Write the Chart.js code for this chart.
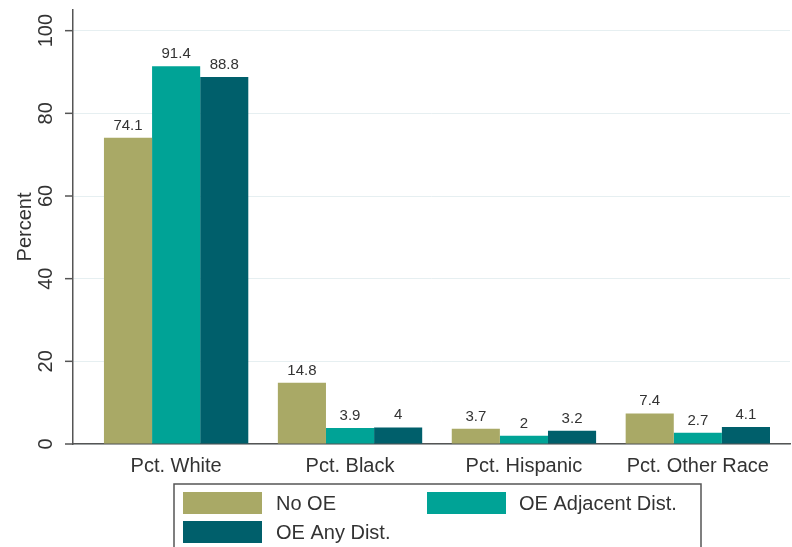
<!DOCTYPE html>
<html>
<head>
<meta charset="utf-8">
<script src="https://cdn.jsdelivr.net/npm/chart.js@4"></script>
<style>
  body { margin: 0; background: #fff; }
</style>
</head>
<body>
<canvas id="chart" width="792" height="547"></canvas>
<script>
// categorias y series
const categories = ['Pct. White', 'Pct. Black', 'Pct. Hispanic', 'Pct. Other Race'];
const seriesNames = ['No OE', 'OE Adjacent Dist.', 'OE Any Dist.'];
const noOE = [74.1, 14.8, 3.7, 7.4];
const oeAdjacent = [91.4, 3.9, 2, 2.7];
const oeAny = [88.8, 4, 3.2, 4.1];
const yTicks = [0, 20, 40, 60, 80, 100];

const colors = ['#a9a966', '#00a396', '#005f6b'];
const textColor = '#333';
const FONT = 'Liberation Sans, Arial, sans-serif';

const seriesValues = [noOE, oeAdjacent, oeAny];

// etiquetas de valor encima de cada barra + marcas del eje y
const valueLabels = {
    id: 'valueLabels',
    afterDatasetsDraw(chart) {
        const ctx = chart.ctx;
        ctx.save();
        ctx.font = '15px ' + FONT;
        ctx.fillStyle = textColor;
        ctx.textAlign = 'center';
        ctx.textBaseline = 'alphabetic';
        chart.data.datasets.forEach((ds, di) => {
            chart.getDatasetMeta(di).data.forEach((bar, i) => {
                ctx.fillText(String(ds.data[i].y), bar.x, bar.y - 8);
            });
        });
        // marcas cortas a la izquierda del eje y
        const ys = chart.scales.y;
        ctx.strokeStyle = '#555';
        ctx.lineWidth = 1.5;
        yTicks.forEach(v => {
            const py = ys.getPixelForValue(v);
            ctx.beginPath();
            ctx.moveTo(ys.right - 8, py);
            ctx.lineTo(ys.right, py);
            ctx.stroke();
        });
        ctx.restore();
    }
};

// leyenda con recuadro, al estilo de Stata
const boxLegend = {
    id: 'boxLegend',
    afterDraw(chart) {
        const ctx = chart.ctx;
        ctx.save();
        ctx.strokeStyle = '#555';
        ctx.lineWidth = 1.5;
        ctx.strokeRect(174, 484, 527, 80);
        const slots = [
            { x: 183, y: 492, tx: 276 },
            { x: 427, y: 492, tx: 519 },
            { x: 183, y: 521, tx: 276 }
        ];
        ctx.font = '20px ' + FONT;
        ctx.textBaseline = 'middle';
        ctx.textAlign = 'left';
        seriesNames.forEach((name, i) => {
            const s = slots[i];
            ctx.fillStyle = colors[i];
            ctx.fillRect(s.x, s.y, 79, 22);
            ctx.fillStyle = textColor;
            ctx.fillText(name, s.tx, s.y + 12);
        });
        ctx.restore();
    }
};

const ctx = document.getElementById('chart').getContext('2d');
new Chart(ctx, {
    type: 'bar',
    data: {
        datasets: seriesNames.map((name, di) => ({
            label: name,
            data: seriesValues[di].map((v, i) => ({ x: i, y: v })),
            backgroundColor: colors[di],
            borderWidth: 0,
            categoryPercentage: 0.83,
            barPercentage: 1.0
        }))
    },
    options: {
        responsive: false,
        animation: false,
        layout: { padding: { top: 10, right: 2, left: 0, bottom: 0 } },
        plugins: {
            legend: { display: false },
            tooltip: { enabled: false }
        },
        scales: {
            x: {
                type: 'linear',
                offset: false,
                min: -0.593,
                max: 3.53,
                grid: { display: false, drawTicks: false, offset: false },
                border: { display: true, color: '#555', width: 1.5 },
                afterBuildTicks: (scale) => { scale.ticks = categories.map((_, i) => ({ value: i })); },
                afterFit: (scale) => { scale.height = 103; },
                ticks: {
                    padding: 10,
                    autoSkip: false,
                    maxRotation: 0,
                    color: textColor,
                    font: { family: FONT, size: 20 },
                    callback: (v) => categories[v]
                }
            },
            y: {
                min: 0,
                max: 105,
                afterBuildTicks: (scale) => { scale.ticks = yTicks.map(v => ({ value: v })); },
                afterFit: (scale) => {
                    scale.width = 73;
                    scale.paddingTop = 0;
                    scale.paddingBottom = 0;
                },
                grid: { color: '#e6eff1', drawTicks: false, lineWidth: 1 },
                border: { display: true, color: '#555', width: 1.5 },
                title: {
                    display: true,
                    text: 'Percent',
                    color: textColor,
                    font: { family: FONT, size: 20 },
                    padding: { top: 13, bottom: 0 }
                },
                ticks: {
                    minRotation: 90,
                    maxRotation: 90,
                    crossAlign: 'center',
                    padding: 10,
                    color: textColor,
                    font: { family: FONT, size: 20 }
                }
            }
        }
    },
    plugins: [valueLabels, boxLegend]
});
</script>
</body>
</html>
